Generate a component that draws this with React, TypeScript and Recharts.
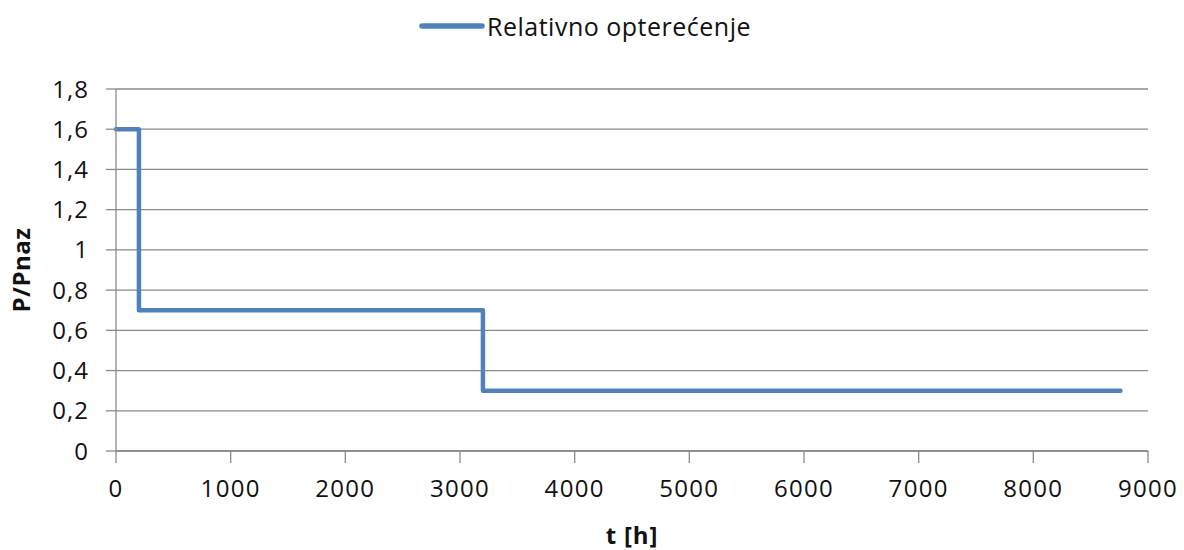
import React from 'react';
import { LineChart, Line, XAxis, YAxis, CartesianGrid, Legend } from 'recharts';

const hours = [0, 200, 3200, 8760];
const load = [1.6, 0.7, 0.3, 0.3];
const xTicks = [0, 1000, 2000, 3000, 4000, 5000, 6000, 7000, 8000, 9000];
const yTicks = [0, 0.2, 0.4, 0.6, 0.8, 1, 1.2, 1.4, 1.6, 1.8];
const seriesName = 'Relativno opterećenje';
const xTitle = 't [h]';
const yTitle = 'P/Pnaz';

const data = hours.map((h, i) => ({ t: h, v: load[i] }));

const FONT = '"Open Sans", sans-serif';
const GRID = '#8a8a8a';
const BLUE = '#4F81BD';

const fmtY = (v: number) => String(Number(v.toFixed(1))).replace('.', ',');

const LegendContent = () => (
  <div style={{ height: 55, display: 'flex', justifyContent: 'center', alignItems: 'flex-start' }}>
    <div style={{ display: 'flex', alignItems: 'center', marginTop: 9, marginRight: 14, height: 34 }}>
      <svg width={68} height={10} style={{ display: 'block' }}>
        <line x1={3} y1={5} x2={63} y2={5} stroke={BLUE} strokeWidth={5.5} strokeLinecap="round" />
      </svg>
      <span style={{ fontFamily: FONT, fontSize: 25, letterSpacing: 0.5, color: '#111', lineHeight: '34px' }}>{seriesName}</span>
    </div>
  </div>
);

export default function App() {
  return (
    <div style={{ position: 'absolute', left: 0, top: 0, background: '#fff' }}>
      <LineChart width={1184} height={550} data={data} margin={{ top: 34, right: 36, left: 0, bottom: 0 }}>
        <Legend verticalAlign="top" content={<LegendContent />} wrapperStyle={{ top: 0, left: 0, width: 1184 }} />
        <CartesianGrid vertical={false} stroke={GRID} strokeWidth={1.3} />
        <XAxis
          dataKey="t"
          type="number"
          domain={[0, 9000]}
          ticks={xTicks}
          height={99}
          tickSize={12}
          tickMargin={17}
          stroke={GRID}
          axisLine={{ stroke: GRID, strokeWidth: 1.3 }}
          tickLine={{ stroke: GRID, strokeWidth: 1.3 }}
          tick={{ fontFamily: FONT, fontSize: 24, fill: '#111', letterSpacing: 1.3 }}
          label={{
            content: (p: any) => {
              const vb = p.viewBox;
              return (
                <text x={vb.x + vb.width / 2} y={vb.y + 83} textAnchor="middle" dominantBaseline="central"
                  fontFamily={FONT} fontSize={24} fontWeight="bold" letterSpacing={0.8} fill="#111">{xTitle}</text>
              );
            },
          }}
        />
        <YAxis
          type="number"
          domain={[0, 1.8]}
          ticks={yTicks}
          width={116}
          tickSize={10}
          tickMargin={17}
          tickFormatter={fmtY}
          stroke={GRID}
          axisLine={{ stroke: GRID, strokeWidth: 1.3 }}
          tickLine={{ stroke: GRID, strokeWidth: 1.3 }}
          tick={{ fontFamily: FONT, fontSize: 24, fill: '#111', letterSpacing: 1 }}
          label={{
            content: (p: any) => {
              const vb = p.viewBox;
              const cx = vb.x + 20;
              const cy = vb.y + vb.height / 2;
              return (
                <text x={cx} y={cy} textAnchor="middle" dominantBaseline="central" transform={`rotate(-90 ${cx} ${cy})`}
                  fontFamily={FONT} fontSize={24} fontWeight="bold" letterSpacing={0.5} fill="#111">{yTitle}</text>
              );
            },
          }}
        />
        <Line
          type="stepAfter"
          dataKey="v"
          name={seriesName}
          stroke={BLUE}
          strokeWidth={4.5}
          strokeLinecap="round"
          strokeLinejoin="round"
          dot={false}
          activeDot={false}
          isAnimationActive={false}
        />
      </LineChart>
    </div>
  );
}
